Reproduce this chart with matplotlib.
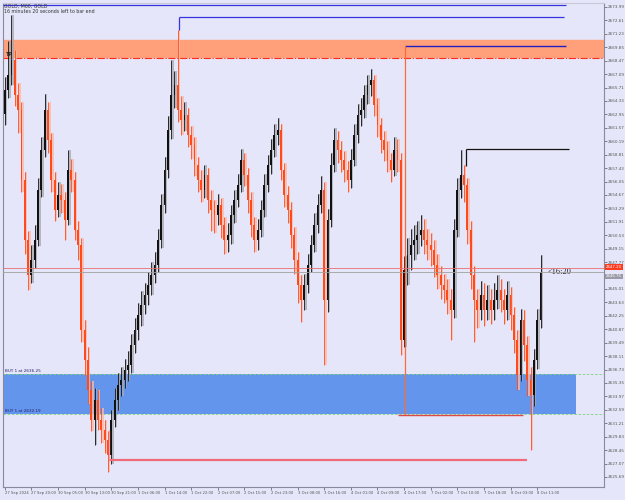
import numpy as np
import matplotlib.pyplot as plt

# ---- data (GOLD, H1 candles) ----
first_open = 2663.0
closes = [2665.46, 2667.00, 2668.54, 2664.95, 2663.41, 2656.21, 2650.04, 2646.45, 2647.99, 2650.04,
          2655.18, 2659.29, 2663.41, 2660.32, 2656.21, 2653.13, 2654.67, 2654.15, 2652.10, 2657.24,
          2656.21, 2651.07, 2649.53, 2640.79, 2637.71, 2634.63, 2631.55, 2633.60, 2631.55, 2630.52,
          2629.49, 2627.95, 2631.55, 2633.60, 2635.14, 2635.66, 2636.68, 2637.20, 2639.25, 2640.79,
          2642.34, 2643.36, 2644.39, 2645.42, 2646.45, 2647.48, 2650.04, 2653.64, 2657.24, 2661.35,
          2664.95, 2665.97, 2663.41, 2662.38, 2662.89, 2660.84, 2659.81, 2657.75, 2656.21, 2655.18,
          2656.72, 2654.15, 2653.13, 2652.61, 2653.64, 2651.59, 2650.04, 2650.56, 2652.61, 2654.15,
          2655.70, 2658.27, 2656.72, 2654.15, 2651.59, 2650.04, 2651.07, 2653.13, 2655.70, 2657.75,
          2659.29, 2660.84, 2661.35, 2657.24, 2654.67, 2653.13, 2650.56, 2647.99, 2645.42, 2643.88,
          2645.42, 2647.48, 2649.53, 2651.59, 2653.64, 2655.18, 2643.88, 2652.10, 2657.75, 2660.32,
          2659.29, 2658.27, 2657.24, 2656.21, 2658.27, 2660.84, 2662.89, 2663.41, 2664.95, 2665.97,
          2666.49, 2663.92, 2661.86, 2660.32, 2659.29, 2658.27, 2657.24, 2659.29, 2658.27, 2639.77,
          2646.96, 2648.50, 2649.53, 2650.04, 2650.56, 2651.07, 2650.04, 2649.53, 2649.02, 2647.48,
          2646.45, 2645.42, 2644.91, 2643.88, 2642.85, 2651.07, 2655.18, 2656.72, 2655.70, 2651.07,
          2646.45, 2643.88, 2642.85, 2644.39, 2642.85, 2643.88, 2642.85, 2643.88, 2644.91, 2643.88,
          2642.85, 2644.39, 2642.34, 2639.77, 2636.17, 2641.82, 2639.25, 2635.66, 2634.12, 2637.71,
          2641.82, 2646.76]
highs = [2666.8, 2670.5, 2673.2, 2669.6, 2666.2, 2664.2, 2657.0, 2651.0, 2649.5, 2651.6,
         2656.4, 2660.6, 2665.0, 2664.2, 2661.0, 2657.0, 2656.0, 2655.8, 2655.0, 2659.3,
         2658.4, 2657.0, 2652.0, 2650.2, 2641.8, 2639.0, 2635.6, 2634.8, 2634.6, 2632.8,
         2631.5, 2630.4, 2632.6, 2634.8, 2636.4, 2637.0, 2637.8, 2638.6, 2640.4, 2642.0,
         2643.6, 2644.8, 2645.6, 2646.8, 2647.8, 2648.8, 2651.2, 2654.8, 2658.6, 2662.8,
         2668.5, 2667.4, 2671.6, 2664.8, 2664.2, 2663.6, 2661.8, 2660.6, 2658.6, 2657.2,
         2657.8, 2657.4, 2655.2, 2654.2, 2654.8, 2654.4, 2652.4, 2651.8, 2653.6, 2655.2,
         2656.8, 2659.4, 2659.0, 2657.4, 2655.0, 2652.4, 2652.2, 2654.2, 2656.8, 2658.8,
         2660.4, 2662.0, 2662.6, 2662.0, 2658.0, 2655.6, 2654.0, 2651.4, 2648.8, 2646.4,
         2646.6, 2648.6, 2650.6, 2652.8, 2654.8, 2656.6, 2656.0, 2653.2, 2659.0, 2661.6,
         2661.2, 2660.2, 2659.2, 2658.2, 2659.4, 2662.0, 2664.0, 2664.6, 2666.0, 2667.0,
         2667.6, 2667.0, 2664.6, 2662.6, 2661.2, 2660.2, 2659.0, 2660.6, 2660.4, 2659.0,
         2648.4, 2650.2, 2651.2, 2651.6, 2652.0, 2652.6, 2652.2, 2651.2, 2650.8, 2650.0,
         2648.6, 2647.4, 2646.6, 2646.0, 2645.0, 2652.2, 2656.4, 2659.3, 2657.8, 2656.4,
         2652.0, 2647.4, 2645.0, 2645.8, 2645.6, 2645.4, 2645.0, 2645.6, 2646.4, 2646.0,
         2645.0, 2645.8, 2645.2, 2643.2, 2640.8, 2643.0, 2642.8, 2640.2, 2637.0, 2638.8,
         2643.0, 2648.5]
lows = [2661.9, 2664.6, 2666.0, 2663.8, 2661.0, 2655.0, 2648.6, 2644.9, 2645.6, 2647.2,
        2649.4, 2654.5, 2658.6, 2659.0, 2655.0, 2652.0, 2652.4, 2652.8, 2650.0, 2651.6,
        2655.0, 2650.0, 2648.0, 2639.6, 2636.2, 2633.2, 2630.4, 2629.0, 2630.5, 2629.2,
        2628.2, 2626.2, 2627.0, 2630.8, 2632.6, 2634.0, 2634.8, 2635.6, 2636.4, 2638.4,
        2639.8, 2641.2, 2642.4, 2643.4, 2644.4, 2645.6, 2646.8, 2649.2, 2652.8, 2656.4,
        2660.4, 2663.6, 2662.2, 2660.8, 2661.2, 2659.6, 2658.4, 2656.6, 2655.0, 2654.0,
        2654.4, 2652.8, 2651.0, 2650.8, 2651.6, 2650.2, 2648.6, 2648.8, 2649.6, 2651.8,
        2653.4, 2655.0, 2655.6, 2652.8, 2650.4, 2648.8, 2649.0, 2650.4, 2652.4, 2655.0,
        2656.8, 2658.6, 2659.8, 2656.2, 2653.4, 2651.8, 2649.2, 2646.6, 2643.6, 2641.6,
        2642.8, 2644.6, 2646.8, 2648.8, 2650.8, 2652.8, 2637.2, 2642.6, 2651.4, 2657.0,
        2658.0, 2657.0, 2656.0, 2655.0, 2655.4, 2657.6, 2660.0, 2661.8, 2662.6, 2664.0,
        2664.8, 2662.8, 2660.6, 2659.0, 2658.2, 2657.0, 2656.0, 2656.6, 2657.0, 2638.2,
        2639.0, 2645.4, 2647.0, 2648.0, 2648.6, 2649.4, 2648.6, 2648.0, 2647.4, 2646.2,
        2645.0, 2644.0, 2643.6, 2642.4, 2639.8, 2642.0, 2650.4, 2654.4, 2654.0, 2649.6,
        2645.0, 2639.6, 2641.0, 2641.8, 2641.2, 2641.8, 2641.4, 2641.8, 2643.0, 2642.6,
        2641.4, 2641.8, 2640.8, 2638.4, 2634.6, 2635.6, 2637.6, 2634.0, 2628.5, 2633.0,
        2636.8, 2641.0]

time_labels = ["27 Sep 2024", "27 Sep 20:00", "30 Sep 05:00", "30 Sep 13:00", "30 Sep 21:00",
               "1 Oct 06:00", "1 Oct 14:00", "1 Oct 22:00", "2 Oct 07:00", "2 Oct 15:00",
               "2 Oct 23:00", "3 Oct 08:00", "3 Oct 16:00", "4 Oct 01:00", "4 Oct 09:00",
               "4 Oct 17:00", "7 Oct 02:00", "7 Oct 10:00", "7 Oct 18:00", "8 Oct 03:00",
               "8 Oct 11:00"]
price_ticks = [2625.69, 2627.07, 2628.45, 2629.83, 2631.21, 2632.59, 2633.97, 2635.35, 2636.73,
               2638.11, 2639.49, 2640.87, 2642.25, 2643.63, 2645.01, 2646.39, 2647.77, 2649.15,
               2650.53, 2651.91, 2653.29, 2654.67, 2656.05, 2657.43, 2658.81, 2660.19, 2661.57,
               2662.95, 2664.33, 2665.71, 2667.09, 2668.47, 2669.85, 2671.23, 2672.61, 2673.99]

tp_zone = (2668.8, 2670.6)
tp_level = 2668.75
buy_levels = [2636.25, 2632.19]
bid, ask = 2646.76, 2647.20

BG = '#e6e6fa'
UP = '#111111'
DOWN = '#ff4a1c'

opens = np.array([first_open] + closes[:-1])
closes = np.array(closes)
highs = np.array(highs)
lows = np.array(lows)
x = np.arange(len(closes))
up = closes >= opens

fig = plt.figure(figsize=(6.25, 5), dpi=100, facecolor=BG)
ax = fig.add_axes([0.005, 0.026, 0.961, 0.968], facecolor=BG)

# zones and levels (behind candles)
ax.axhspan(*tp_zone, color='#ffa07a', zorder=0)
ax.axhline(tp_level, color='#ff2a1a', lw=0.8, ls='-.', zorder=1)
ax.fill_between([-0.5, 171.8], buy_levels[1], buy_levels[0], color='#6495ed', lw=0, zorder=0)
for lv in buy_levels:
    ax.axhline(lv, color='#7ed37e', lw=0.6, ls=(0, (3, 2)), zorder=1)
    ax.text(0.2, lv + 0.08, f"BUY 1 at {lv:.2f}", fontsize=3.0, color='#222266', va='bottom', zorder=5)
ax.text(0.3, tp_level + 0.08, "TP", fontsize=3.5, color='#333333', fontweight='bold', va='bottom')

# candles: light ghost copy first, then the solid candle
ghost_col = np.where(up, '#a8a8b0', '#ffb8a6')
ax.vlines(x + 0.45, lows, highs, colors=ghost_col, lw=1.1, zorder=2)
col = np.where(up, UP, DOWN)
ax.vlines(x, lows, highs, colors=col, lw=0.6, zorder=3)
body_h = np.maximum(np.abs(closes - opens), 0.08)
ax.bar(x, body_h, bottom=np.minimum(opens, closes), width=0.55, color=col, lw=0, zorder=3)

# drawn objects
ax.hlines(2674.2, -0.5, 168.8, color='#3434e0', lw=0.9, zorder=4)
ax.hlines(2673.0, 52.5, 168.2, color='#3434e0', lw=0.9, zorder=4)
ax.vlines(52.5, 2671.6, 2673.0, color='#3434e0', lw=0.9, zorder=4)
ax.hlines(2670.0, 120.3, 168.8, color='#2020c0', lw=1.0, zorder=4)
ax.vlines(120.3, 2632.1, 2670.0, color='#ff6a3a', lw=0.9, zorder=4)
ax.hlines(2632.1, 118.3, 155.8, color='#e04848', lw=1.0, zorder=4)
ax.hlines(2627.4, 31.2, 156.8, color='#f06a78', lw=1.6, zorder=4)
ax.vlines(31.2, 2627.4, 2630.5, color='#f4a0a8', lw=0.9, zorder=4)
ax.hlines(2659.4, 138.7, 169.7, color='#111111', lw=0.9, zorder=4)
ax.vlines(138.7, 2657.7, 2659.4, color='#111111', lw=0.9, zorder=4)

# bid / ask lines
ax.axhline(ask, color='#e87070', lw=0.6, zorder=4)
ax.axhline(bid, color='#a0a0a0', lw=0.6, zorder=4)
ax.text(163.2, bid, "<16:20", fontsize=6, color='#222222', va='center', family='Liberation Serif')

ax.set_xlim(-0.5, 180.0)
ax.set_ylim(2624.66, 2674.40)

ax.set_xticks(x[::8][:len(time_labels)])
ax.set_xticklabels(time_labels, fontsize=2.7, ha='left', color='#333333')
ax.yaxis.tick_right()
ax.set_yticks(price_ticks)
# the 2646.39 label sits under the bid/ask tags in the reference
ax.set_yticklabels(["" if abs(p - bid) < 0.5 else f"{p:.2f}" for p in price_ticks],
                   fontsize=3.0, color='#333333')
ax.tick_params(axis='both', length=2, width=0.5, colors='#555555', pad=1)
for s in ['right', 'bottom', 'left']:
    ax.spines[s].set_color('#8a8a9a')
    ax.spines[s].set_linewidth(0.8)
ax.spines['top'].set_color('#c8c8d8')

# price tags on the axis
ax.text(1.004, ask + 0.1, f"{ask:.2f}", transform=ax.get_yaxis_transform(), fontsize=2.8,
        color='white', va='center', clip_on=False,
        bbox=dict(fc='#ff3b1f', ec='none', pad=0.6), zorder=10)
ax.text(1.004, bid - 0.45, f"{bid:.2f}", transform=ax.get_yaxis_transform(), fontsize=2.8,
        color='white', va='center', clip_on=False,
        bbox=dict(fc='#9a9aa8', ec='none', pad=0.6), zorder=10)

# header text
fig.text(0.006, 0.988, "GOLD, M60, GOLD", fontsize=3.4, color='#333333', va='center')
fig.text(0.006, 0.977, "16 minutes 20 seconds left to bar end", fontsize=3.4, color='#333333', va='center')

fig.savefig("out.png", dpi=100, facecolor=BG)
